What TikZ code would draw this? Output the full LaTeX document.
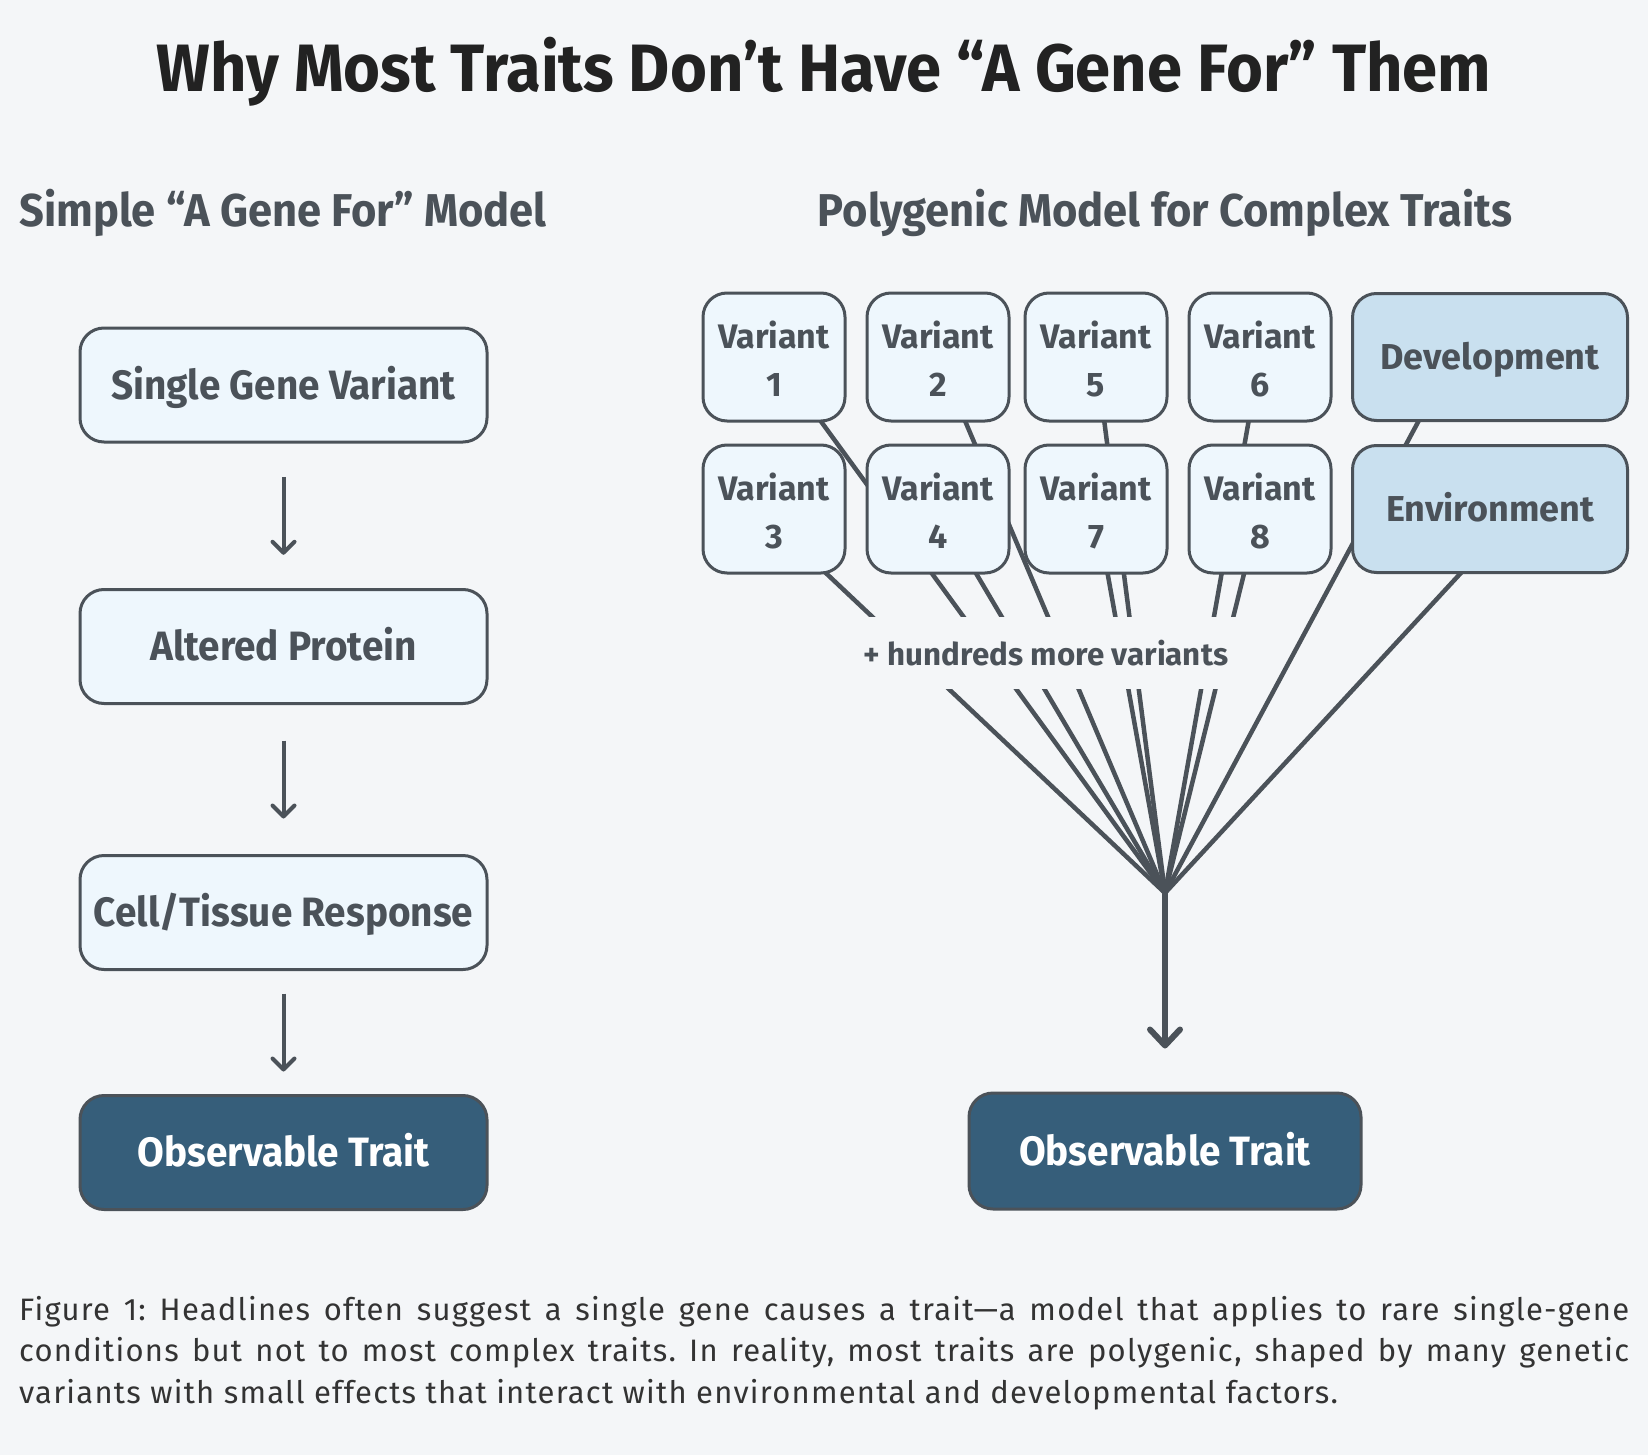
\documentclass[tikz,border=0pt]{standalone}
\usepackage{fontspec}
\setmainfont{Fira Sans}
\newfontfamily\narrowfont[FakeStretch=0.945]{Fira Sans}
\newfontfamily\capfont[LetterSpace=4]{Fira Sans}
\usetikzlibrary{arrows.meta,calc,backgrounds}
\definecolor{bg}{HTML}{F4F6F8}
\definecolor{edge}{HTML}{4B5259}
\definecolor{ink}{HTML}{4B5259}
\definecolor{titleink}{HTML}{222222}
\definecolor{capink}{HTML}{333333}
\definecolor{light}{HTML}{EEF7FD}
\definecolor{ctxblue}{HTML}{C9E0EF}
\definecolor{deep}{HTML}{365E7A}
\begin{document}
\begin{tikzpicture}[x=1pt,y=-1pt,
  box/.style={draw=edge, line width=3pt, rounded corners=24pt, fill=light, text=ink,
    font=\narrowfont\fontsize{41}{48}\selectfont\bfseries, minimum width=407pt, minimum height=114pt,
    inner sep=0pt, text height=28.2pt, text depth=0pt},
  dark/.style={box, fill=deep, text=white},
  var/.style={draw=edge, line width=3pt, rounded corners=24pt, fill=light, text=ink,
    minimum width=142pt, minimum height=128pt, inner sep=0pt, align=center,
    text height=79.4pt, text depth=0pt,
    font=\fontsize{34}{48}\selectfont\bfseries},
  ctx/.style={box, fill=ctxblue, minimum width=275pt, minimum height=127pt,
    text height=25.5pt, font=\fontsize{36}{44}\selectfont\bfseries},
  fan/.style={draw=edge, line width=4.5pt},
  arr/.style={draw=edge, line width=4pt, -{Straight Barb[length=11pt,width=22pt,line cap=round,line join=round]}},
  bigarr/.style={draw=edge, line width=6pt, -{Straight Barb[length=16pt,width=30pt,line cap=round,line join=round]}},
  heading/.style={text=ink, font=\narrowfont\fontsize{46}{52}\selectfont\bfseries, anchor=base, inner sep=0pt}
]
\begin{scope}[on background layer]
\fill[bg] (0,0) rectangle (1648,1455);
\end{scope}
\useasboundingbox (0,0) rectangle (1648,1455);

% title
\node[text=titleink, font=\narrowfont\fontsize{67}{72}\selectfont\bfseries, anchor=base, inner sep=0pt] (title) at (824,92) {Why Most Traits Don’t Have “A Gene For” Them};

% left model
\node[heading] (lhead) at (283,227) {Simple “A Gene For” Model};
\node[box] (b1) at (283.5,385) {Single Gene Variant};
\node[box] (b2) at (283.5,646.5) {Altered Protein};
\node[box] (b3) at (283.5,912.5) {Cell/Tissue Response};
\node[dark] (b4) at (283.5,1152.5) {Observable Trait};
\draw[arr] ($(b1.south)!0.5!(b2.north)+(0,-39)$) -- ($(b1.south)!0.5!(b2.north)+(0,39)$);
\draw[arr] ($(b2.south)!0.5!(b3.north)+(0,-39)$) -- ($(b2.south)!0.5!(b3.north)+(0,39)$);
\draw[arr] ($(b3.south)!0.5!(b4.north)+(0,-39)$) -- ($(b3.south)!0.5!(b4.north)+(0,39)$);

% right model
\node[heading] (rhead) at (1165,227) {Polygenic Model for Complex Traits};
\node[var] (v1) at (774,357) {Variant\\1};
\node[var] (v2) at (938,357) {Variant\\2};
\node[var] (v5) at (1096,357) {Variant\\5};
\node[var] (v6) at (1260,357) {Variant\\6};
\node[ctx] (dev) at (1490,357) {Development};
\node[var] (v3) at (774,509) {Variant\\3};
\node[var] (v4) at (938,509) {Variant\\4};
\node[var] (v7) at (1096,509) {Variant\\7};
\node[var] (v8) at (1260,509) {Variant\\8};
\node[ctx] (env) at (1490,509) {Environment};
\node[dark, minimum width=392pt, minimum height=116pt] (obs) at (1165,1151) {Observable Trait};
\coordinate (C) at (1165,893);

\begin{scope}[on background layer]
\foreach \n in {v1,v2,v4,v5,v6,v7,v8}{\draw[fan] (\n.center) -- (C);}
\draw[fan] ($(v3.center)+(-16,0)$) -- (C);
\draw[fan] ($(dev.center)+(-37,0)$) -- (C);
\draw[fan] ($(env.center)+(30,0)$) -- (C);
\end{scope}

\node[fill=bg, minimum width=380pt, minimum height=72pt, inner sep=0pt, text=ink,
  font=\fontsize{31.3}{36}\selectfont\bfseries] (more) at (1046,653) {+ hundreds more variants};

\draw[bigarr, shorten >=43pt] (C) -- (obs.north);

% caption
\node[anchor=north west, inner sep=0pt, text=capink] (cap) at (19,1296)
{\parbox{1610pt}{\capfont\fontsize{31}{41.5}\selectfont\frenchspacing\parindent=0pt
Figure 1: Headlines often suggest a single gene causes a trait—a model that applies to rare single-gene\linebreak
conditions but not to most complex traits. In reality, most traits are polygenic, shaped by many genetic\linebreak
variants with small effects that interact with environmental and developmental factors.}};
\end{tikzpicture}
\end{document}
